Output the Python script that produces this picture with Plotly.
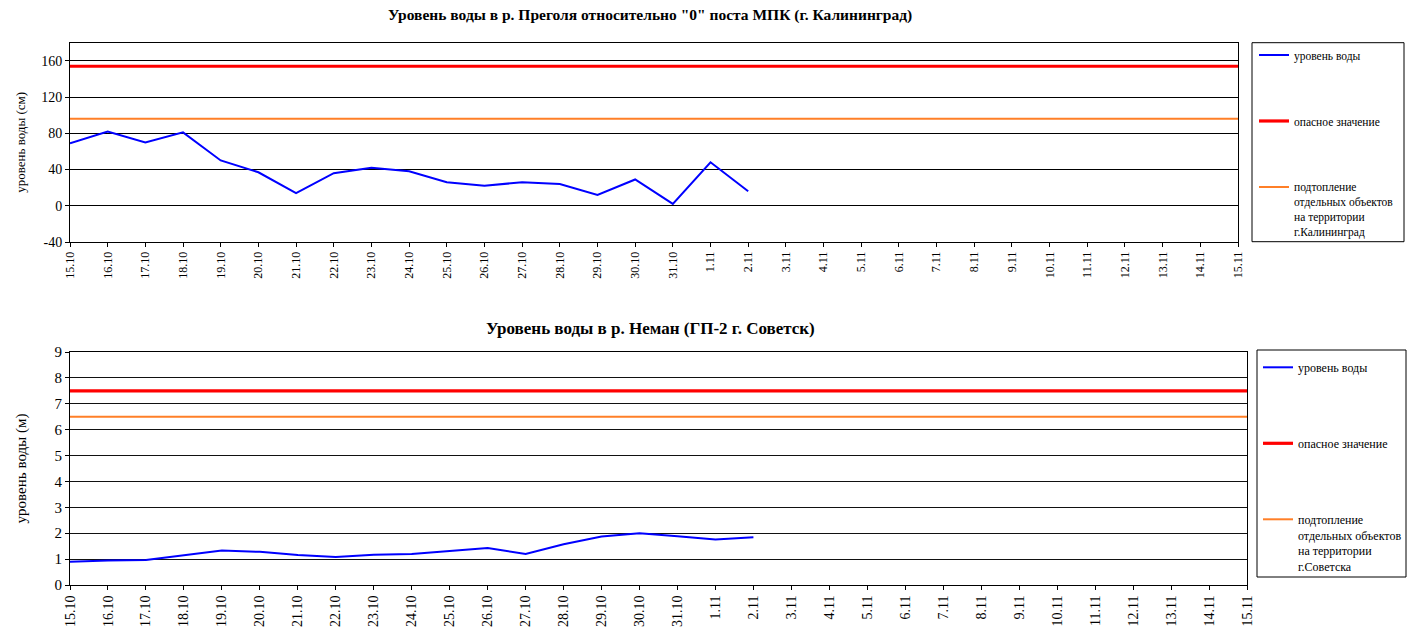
import plotly.graph_objects as go

W, H = 1411, 632

DATES = ["15.10", "16.10", "17.10", "18.10", "19.10", "20.10", "21.10", "22.10",
         "23.10", "24.10", "25.10", "26.10", "27.10", "28.10", "29.10", "30.10",
         "31.10", "1.11", "2.11", "3.11", "4.11", "5.11", "6.11", "7.11", "8.11",
         "9.11", "10.11", "11.11", "12.11", "13.11", "14.11", "15.11"]

# Преголя (см)
PREGOLYA_LEVEL = [69, 82, 70, 81, 50, 37, 14, 36, 42, 38, 26, 22, 26, 24, 12, 29, 2, 48, 16]
PREGOLYA_DANGER = 154
PREGOLYA_FLOOD = 96
PREGOLYA_YTICKS = [-40, 0, 40, 80, 120, 160]

# Неман (м)
NEMAN_LEVEL = [0.90, 0.95, 0.97, 1.15, 1.33, 1.28, 1.16, 1.08, 1.17, 1.20, 1.32, 1.43,
               1.20, 1.57, 1.87, 2.00, 1.88, 1.76, 1.84]
NEMAN_DANGER = 7.5
NEMAN_FLOOD = 6.5
NEMAN_YTICKS = [0, 1, 2, 3, 4, 5, 6, 7, 8, 9]

TITLE_TOP = 'Уровень воды в р. Преголя относительно "0" поста МПК (г. Калининград)'
TITLE_BOT = 'Уровень воды в р. Неман (ГП-2 г. Советск)'

FONT = "Liberation Serif, Times New Roman, serif"

def px_x(x):
    return x / W

def px_y(y):
    return 1 - y / H

fig = go.Figure()

n = len(DATES)
# top chart
fig.add_trace(go.Scatter(x=DATES[:len(PREGOLYA_LEVEL)], y=PREGOLYA_LEVEL, mode="lines",
                         line=dict(color="#0000ff", width=2), name="уровень воды",
                         xaxis="x", yaxis="y", legend="legend", legendgroup="a1"))
fig.add_trace(go.Scatter(x=DATES, y=[PREGOLYA_DANGER] * n, mode="lines",
                         line=dict(color="#ff0000", width=3.2), name="опасное значение",
                         xaxis="x", yaxis="y", legend="legend", legendgroup="a2"))
fig.add_trace(go.Scatter(x=DATES, y=[PREGOLYA_FLOOD] * n, mode="lines",
                         line=dict(color="#ff7f27", width=2),
                         name="подтопление<br>отдельных объектов<br>на территории<br>г.Калининград",
                         xaxis="x", yaxis="y", legend="legend", legendgroup="a3"))
# bottom chart
fig.add_trace(go.Scatter(x=DATES[:len(NEMAN_LEVEL)], y=NEMAN_LEVEL, mode="lines",
                         line=dict(color="#0000ff", width=2), name="уровень воды",
                         xaxis="x2", yaxis="y2", legend="legend2", legendgroup="b1"))
fig.add_trace(go.Scatter(x=DATES, y=[NEMAN_DANGER] * n, mode="lines",
                         line=dict(color="#ff0000", width=3.2), name="опасное значение",
                         xaxis="x2", yaxis="y2", legend="legend2", legendgroup="b2"))
fig.add_trace(go.Scatter(x=DATES, y=[NEMAN_FLOOD] * n, mode="lines",
                         line=dict(color="#ff7f27", width=2),
                         name="подтопление<br>отдельных объектов<br>на территории<br>г.Советска",
                         xaxis="x2", yaxis="y2", legend="legend2", legendgroup="b3"))

axis_common = dict(showline=True, linecolor="#000", linewidth=1, mirror=True,
                   ticks="outside", ticklen=4, tickcolor="#000", automargin=False)

xcommon = dict(axis_common, type="category", categoryorder="array", categoryarray=DATES,
               range=[0, n - 1], tickangle=-90, showgrid=False, tickmode="array",
               tickvals=DATES, ticktext=DATES)

fig.update_layout(
    template="none",
    width=W, height=H,
    margin=dict(l=0, r=0, t=0, b=0),
    paper_bgcolor="white", plot_bgcolor="white",
    font=dict(family=FONT, color="#000"),
    xaxis=dict(xcommon, domain=[px_x(70), px_x(1238)], anchor="y",
               tickfont=dict(family=FONT, size=12, color="#000")),
    yaxis=dict(axis_common, domain=[px_y(242), px_y(42.7)], anchor="x",
               range=[-40, 180], tickmode="array", tickvals=PREGOLYA_YTICKS,
               ticktext=[str(v) for v in PREGOLYA_YTICKS],
               showgrid=True, gridcolor="#000", gridwidth=1, zeroline=False,
               tickfont=dict(family=FONT, size=14, color="#000"),
               title=dict(text="уровень воды (см)", standoff=12,
                          font=dict(family=FONT, size=13, color="#000"))),
    xaxis2=dict(xcommon, domain=[px_x(70), px_x(1247)], anchor="y2",
                tickfont=dict(family=FONT, size=14, color="#000")),
    yaxis2=dict(axis_common, domain=[px_y(585), px_y(352)], anchor="x2",
                range=[0, 9], tickmode="array", tickvals=NEMAN_YTICKS,
                ticktext=[str(v) for v in NEMAN_YTICKS],
                showgrid=True, gridcolor="#111", gridwidth=1, zeroline=False,
                tickfont=dict(family=FONT, size=15, color="#000"),
                title=dict(text="уровень воды (м)", standoff=24,
                           font=dict(family=FONT, size=15, color="#000"))),
    legend=dict(x=px_x(1254), y=px_y(41), xanchor="left", yanchor="top",
                bgcolor="rgba(0,0,0,0)", borderwidth=0, valign="top",
                tracegroupgap=47, font=dict(family=FONT, size=11.5, color="#000"),
                itemclick=False, itemdoubleclick=False),
    legend2=dict(x=px_x(1258), y=px_y(353), xanchor="left", yanchor="top",
                 bgcolor="rgba(0,0,0,0)", borderwidth=0, valign="top",
                 tracegroupgap=57, font=dict(family=FONT, size=12, color="#000"),
                 itemclick=False, itemdoubleclick=False),
    showlegend=True,
    shapes=[
        dict(type="rect", xref="paper", yref="paper",
             x0=px_x(1252), x1=px_x(1404), y0=px_y(241.7), y1=px_y(42.7),
             line=dict(color="#000", width=1), fillcolor="rgba(0,0,0,0)", layer="below"),
        dict(type="rect", xref="paper", yref="paper",
             x0=px_x(1257), x1=px_x(1406), y0=px_y(577), y1=px_y(350),
             line=dict(color="#000", width=1), fillcolor="rgba(0,0,0,0)", layer="below"),
    ],
    annotations=[
        dict(text="<b>" + TITLE_TOP + "</b>", xref="paper", yref="paper",
             x=px_x(650), y=px_y(15), xanchor="center", yanchor="middle",
             showarrow=False, font=dict(family=FONT, size=15.5, color="#000")),
        dict(text="<b>" + TITLE_BOT + "</b>", xref="paper", yref="paper",
             x=px_x(650), y=px_y(328), xanchor="center", yanchor="middle",
             showarrow=False, font=dict(family=FONT, size=17, color="#000")),
    ],
)

fig.write_html("out.html", config={"displayModeBar": False},
               post_script="document.body.style.margin='0';")
